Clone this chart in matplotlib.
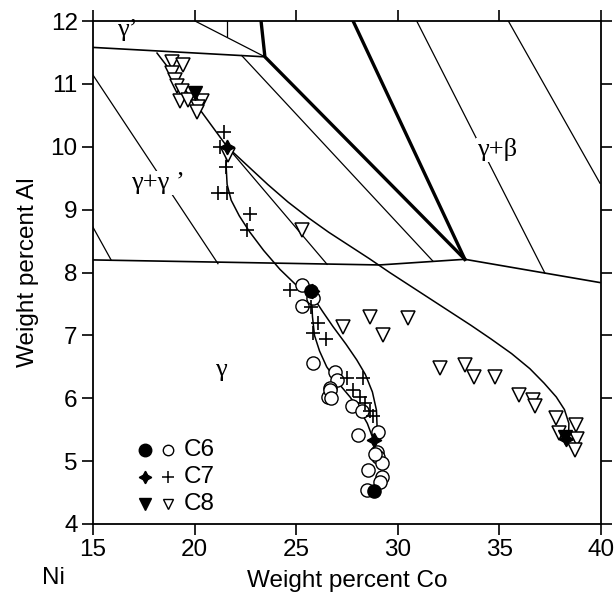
import matplotlib
matplotlib.use('Agg')
import matplotlib.pyplot as plt
import numpy as np

plt.rcParams['font.family'] = ['Liberation Sans', 'DejaVu Sans']

# --- data (Co wt%, Al wt%) ---
c6_open_x = [25.27, 25.85, 25.27, 25.85, 26.91, 26.99, 26.66, 26.58, 26.66, 26.70, 27.73, 28.22,
             28.06, 29.04, 28.96, 29.04, 29.21, 28.55, 29.21, 29.13, 28.47, 28.88]
c6_open_y = [7.80, 7.59, 7.46, 6.56, 6.42, 6.29, 6.16, 6.02, 6.13, 6.00, 5.87, 5.79,
             5.42, 5.47, 5.15, 5.07, 4.97, 4.86, 4.75, 4.67, 4.54, 5.12]
c6_fill_x = [25.75, 28.85]
c6_fill_y = [7.70, 4.52]

c7_open_x = [21.45, 21.25, 21.53, 21.17, 21.58, 22.73, 22.60, 24.69, 25.73, 26.09, 25.85, 26.47,
             27.48, 28.30, 27.81, 28.14, 28.39, 28.63, 28.80]
c7_open_y = [10.24, 10.00, 9.68, 9.27, 9.27, 8.93, 8.68, 7.72, 7.45, 7.19, 7.03, 6.95,
             6.32, 6.32, 6.13, 6.02, 5.92, 5.79, 5.71]
c7_fill_x = [21.6, 28.85, 25.8, 38.3]
c7_fill_y = [10.0, 5.33, 7.7, 5.35]

c8_open_x = [18.87, 19.44, 18.87, 19.04, 19.12, 19.37, 19.28, 19.69, 20.35, 20.18, 20.10, 21.66,
             25.27, 27.32, 28.63, 29.25, 30.52, 32.08, 33.31, 33.77, 34.78, 35.98, 36.67, 36.75,
             37.77, 37.93, 38.77, 38.80, 38.72]
c8_open_y = [11.35, 11.30, 11.17, 11.06, 10.96, 10.88, 10.72, 10.74, 10.72, 10.64, 10.56, 9.87,
             8.68, 7.14, 7.30, 7.00, 7.27, 6.48, 6.53, 6.34, 6.34, 6.05, 5.97, 5.87,
             5.68, 5.44, 5.57, 5.35, 5.18]
c8_fill_x = [20.02, 38.25]
c8_fill_y = [10.85, 5.38]

# diffusion paths
path_top_x = [18.15, 19.9, 21.6]
path_top_y = [11.49, 10.75, 10.0]
path_c67_x = [21.6, 21.55, 21.6, 21.8, 22.2, 22.7, 23.4, 24.2, 25.0, 25.75]
path_c67_y = [10.0, 9.7, 9.4, 9.15, 8.9, 8.65, 8.35, 8.05, 7.8, 7.65]
lens_left_x = [25.75, 25.8, 25.9, 26.15, 26.5, 27.05, 27.65, 28.15, 28.5, 28.8]
lens_left_y = [7.65, 7.3, 7.0, 6.75, 6.5, 6.25, 6.02, 5.8, 5.6, 5.34]
lens_right_x = [25.75, 26.3, 26.81, 27.45, 27.98, 28.4, 28.75, 28.95, 28.98, 28.88]
lens_right_y = [7.65, 7.38, 7.14, 6.86, 6.61, 6.38, 6.1, 5.81, 5.55, 5.34]
path_c8_x = [21.6, 22.6, 23.6, 24.6, 25.6, 26.6, 27.6, 28.6, 29.6, 30.6, 31.6, 32.6, 33.6,
             34.6, 35.6, 36.5, 37.2, 37.8, 38.2, 38.42, 38.4]
path_c8_y = [10.0, 9.7, 9.4, 9.12, 8.87, 8.64, 8.43, 8.22, 8.0, 7.79, 7.58, 7.37, 7.16,
             6.94, 6.71, 6.47, 6.24, 6.02, 5.82, 5.6, 5.36]

# phase boundaries
gp_bound_x = [15, 23.46]
gp_bound_y = [11.58, 11.43]
thick_a_x = [23.27, 23.46, 33.3]
thick_a_y = [12.0, 11.43, 8.21]
thick_b_x = [27.8, 33.3]
thick_b_y = [12.0, 8.21]
gamma_bound_x = [15, 29.1, 33.3, 39.95]
gamma_bound_y = [8.20, 8.12, 8.21, 7.84]

# tie lines (x0, y0, x1, y1)
tie_lines = [
    (20.02, 12.0, 23.46, 11.43),
    (21.58, 12.0, 21.58, 11.76),
    (15.0, 11.14, 21.15, 8.14),
    (15.0, 8.72, 15.89, 8.20),
    (22.32, 11.45, 31.73, 8.18),
    (21.6, 10.0, 26.52, 8.13),
    (30.93, 12.0, 37.24, 7.99),
    (35.44, 12.0, 39.95, 9.42),
]

fig = plt.figure(figsize=(6.16, 6.05), dpi=100)
ax = fig.add_axes([93 / 616, 1 - 524 / 605, 508 / 616, 503 / 605])

lw_thin = 0.9
for x0, y0, x1, y1 in tie_lines:
    ax.plot([x0, x1], [y0, y1], color='black', lw=lw_thin, zorder=1)
ax.plot(gp_bound_x, gp_bound_y, color='black', lw=1.2, zorder=1)
ax.plot(gamma_bound_x, gamma_bound_y, color='black', lw=1.2, zorder=1)
ax.plot(thick_a_x, thick_a_y, color='black', lw=2.4, zorder=1)
ax.plot(thick_b_x, thick_b_y, color='black', lw=2.4, zorder=1)

for px, py in [(path_top_x, path_top_y), (path_c67_x, path_c67_y), (lens_left_x, lens_left_y),
               (lens_right_x, lens_right_y), (path_c8_x, path_c8_y)]:
    ax.plot(px, py, color='black', lw=1.1, zorder=2, solid_joinstyle='round')

star4 = (4, 1, 0)
ms = 9.5
ax.plot(c8_open_x, c8_open_y, 'v', ms=ms, mfc='white', mec='black', mew=1.1, ls='none', zorder=3)
ax.plot(c6_open_x, c6_open_y, 'o', ms=ms, mfc='white', mec='black', mew=1.0, ls='none', zorder=3)
ax.plot(c7_open_x, c7_open_y, '+', ms=ms, mec='black', mew=1.2, ls='none', zorder=4)
ax.plot(c6_fill_x, c6_fill_y, 'o', ms=ms, color='black', ls='none', zorder=5)
ax.plot(c8_fill_x, c8_fill_y, 'v', ms=ms, color='black', ls='none', zorder=5)
ax.plot(c7_fill_x, c7_fill_y, marker=star4, ms=ms + 1, color='black', ls='none', zorder=6)

# legend drawn in data space
leg_y = [5.18, 4.75, 4.32]
leg_names = ['C6', 'C7', 'C8']
leg_fill = ['o', star4, 'v']
leg_open = ['o', '+', 'v']
for yy, name, mf, mo in zip(leg_y, leg_names, leg_fill, leg_open):
    ax.plot([17.56], [yy], marker=mf, ms=9, color='black', ls='none')
    if mo == '+':
        ax.plot([18.7], [yy], marker=mo, ms=8, mec='black', mew=1.1, ls='none')
    else:
        ax.plot([18.7], [yy], marker=mo, ms=7.5, mfc='white', mec='black', mew=1.0, ls='none')
    ax.text(19.45, yy, name, fontsize=17.5, va='center', ha='left')

serif = ['Liberation Serif', 'DejaVu Serif']
ax.text(16.7, 11.86, "γ’", fontsize=19, family=serif, ha='center', va='center')
ax.text(18.2, 9.42, "γ+γ ’", fontsize=19, family=serif, ha='center', va='center',
        bbox=dict(facecolor='white', edgecolor='none', pad=0.5))
ax.text(34.88, 9.95, "γ+β", fontsize=19, family=serif, ha='center', va='center',
        bbox=dict(facecolor='white', edgecolor='none', pad=0.5))
ax.text(21.3, 6.45, "γ", fontsize=19, family=serif, ha='center', va='center')

ax.set_xlim(15, 40)
ax.set_ylim(4, 12)
ax.set_xticks([15, 20, 25, 30, 35, 40])
ax.set_yticks(range(4, 13))
ax.tick_params(direction='out', length=8, width=1.2, labelsize=17.5, top=True, right=True,
               pad=3)
for s in ax.spines.values():
    s.set_linewidth(1.3)

ax.set_xlabel('Weight percent Co', fontsize=17.5, labelpad=6)
ax.set_ylabel('Weight percent Al', fontsize=17.5, labelpad=8)
fig.text(53 / 616, 1 - 578 / 605, 'Ni', fontsize=17.5, ha='center', va='center')

fig.savefig('out.png', dpi=100)
